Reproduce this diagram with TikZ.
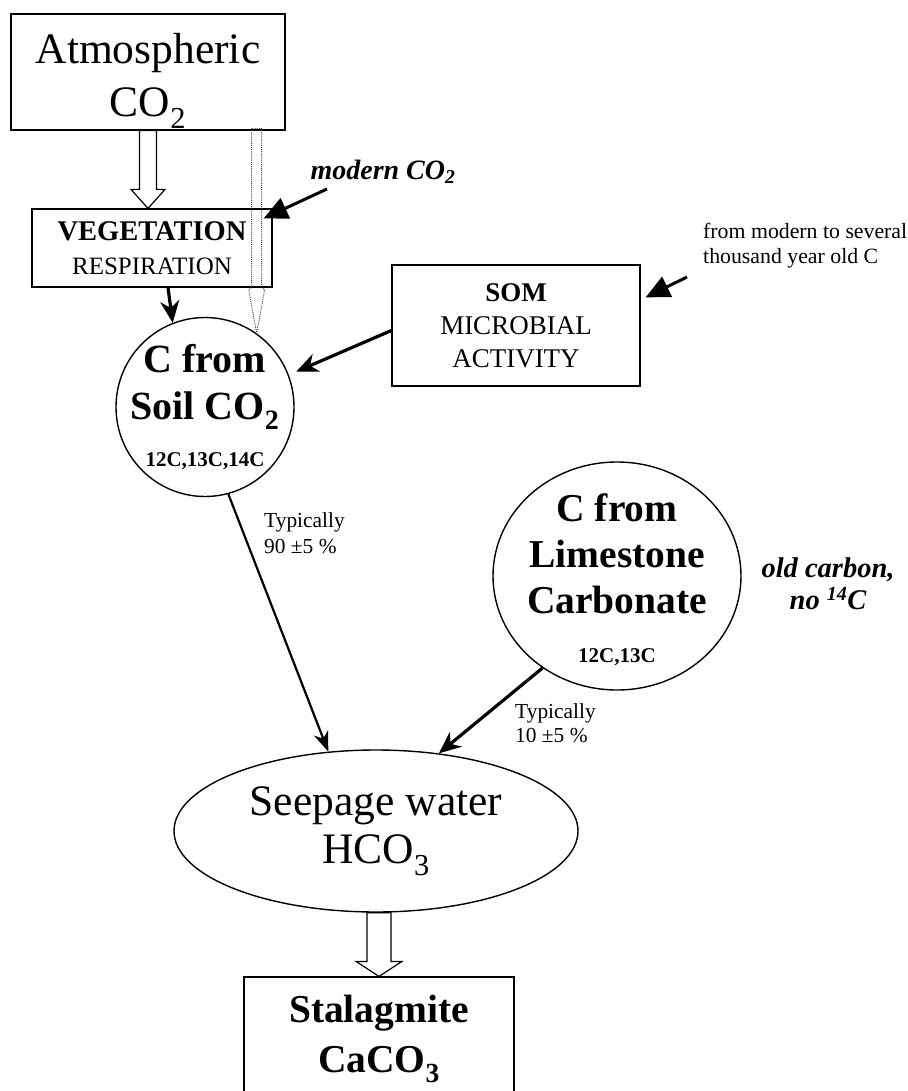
\documentclass[tikz,border=0pt]{standalone}
\usepackage{fontspec}
\setmainfont{Liberation Serif}
\usetikzlibrary{arrows.meta,shapes.geometric,calc}
\begin{document}
\begin{tikzpicture}[x=1pt,y=-1pt,
  box/.style={draw, line width=1.2pt, rectangle, inner sep=0pt, align=center},
  ell/.style={draw, line width=1.4pt, ellipse, inner sep=-22pt, align=center},
  hollow/.style={draw, line width=1.2pt, fill=white, line join=miter},
  bigarr/.style={line width=3pt, -{Triangle[length=24pt,width=22pt]}},
  arr/.style={line width=3.2pt, -{Stealth[length=22pt,width=19pt,inset=7pt]}},
  thinarr/.style={line width=2.2pt, -{Stealth[length=20pt,width=15pt,inset=6pt]}},
  dotbox/.style={densely dotted, black!75, line width=0.9pt},
  lbl/.style={inner sep=0pt},
]
\path[use as bounding box, clip] (0,0) rectangle (907,1091);

\node[box, minimum width=274pt, minimum height=116pt, font=\fontsize{43.5}{53}\selectfont] (atm) at (148,72) {\rule{0pt}{48pt}Atmospheric\\CO\textsubscript{2}};
\node[box, minimum width=240pt, minimum height=78pt, font=\fontsize{25}{34}\selectfont] (veg) at (152,248) {{\bfseries\fontsize{28.5}{34}\selectfont VEGETATION}\\RESPIRATION};
\node[box, minimum width=248pt, minimum height=121pt, font=\fontsize{27}{33}\selectfont] (som) at (516,325.5) {\textbf{SOM}\\MICROBIAL\\ACTIVITY};
\node[ell, minimum width=178pt, minimum height=179pt, font=\fontsize{40}{47}\selectfont\bfseries] (soil) at (205,407) {C from\\Soil CO\textsubscript{2}\\{\fontsize{21}{25}\selectfont 12C,13C,14C}};
\node[ell, minimum width=248pt, minimum height=228pt, font=\fontsize{39.5}{46}\selectfont\bfseries] (lime) at (617,576) {\rule{0pt}{36pt}C from\\Limestone\\Carbonate\\[3pt]{\fontsize{21}{25}\selectfont 12C,13C}};
\node[ell, minimum width=404pt, minimum height=162pt, font=\fontsize{43.5}{48}\selectfont] (seep) at (376,831) {Seepage water\\HCO\textsubscript{3}};
\node[box, minimum width=270pt, minimum height=124pt, font=\fontsize{39.5}{50}\selectfont\bfseries] (stal) at (379,1039) {Stalagmite\\CaCO\textsubscript{3}};

\node[lbl, font=\fontsize{28}{32}\selectfont\bfseries\itshape] (modern) at (383,172) {modern CO\textsubscript{2}};
\node[lbl, font=\fontsize{21.8}{25}\selectfont, align=left, anchor=west] (fromm) at (703,246) {from modern to several\\thousand year old C};
\node[lbl, font=\fontsize{21.4}{26}\selectfont, align=left, anchor=west] (t90) at (264,533) {Typically\\90 ±5 \%};
\node[lbl, font=\fontsize{21.4}{24}\selectfont, align=left, anchor=west] (t10) at (515,723) {Typically\\10 ±5 \%};
\node[lbl, font=\fontsize{28.5}{32}\selectfont\bfseries\itshape, align=center] (old) at (828,584) {old carbon,\\no \textsuperscript{14}C};

\coordinate (mtail) at (327,189);
\coordinate (ftail) at (687,277);

\draw[hollow] let \p1=(atm.south), \p2=(veg.north) in
  (\x1-8.5pt,\y1) -- (\x1-8.5pt,\y2+19pt) -- (\x1-17pt,\y2+19pt) -- (\x1,\y2)
  -- (\x1+17pt,\y2+19pt) -- (\x1+8.5pt,\y2+19pt) -- (\x1+8.5pt,\y1) -- cycle;
\draw[hollow] let \p1=(stal.north), \p2=(seep.south) in
  (\x1-12pt,\y2) -- (\x1-12pt,\y1+15pt) -- (\x1-23pt,\y1+15pt) -- (\x1,\y1)
  -- (\x1+23pt,\y1+15pt) -- (\x1+12pt,\y1+15pt) -- (\x1+12pt,\y2) -- cycle;

\draw[dotbox] let \p1=(soil.55), \p2=(atm.south), \p3=(veg.south) in
  (\x1-5pt,\y2+2pt) -- (\x1+5pt,\y2+2pt) -- (\x1+5pt,\y3) -- (\x1+8pt,\y3-2pt)
  -- (\x1,\y1) -- (\x1-8pt,\y3-2pt) -- (\x1-5pt,\y3) -- cycle;

\draw[bigarr] (mtail) -- ($(veg.north east)+(-9,10)$);
\draw[bigarr] (ftail) -- ($(som.north east)+(5,33)$);
\draw[arr, shorten >=8pt] ($(som.west)+(0,5)$) -- (soil.21);
\draw[arr] ([xshift=16pt]veg.south) -- (soil.111);
\draw[thinarr] (soil.-75) -- (seep.121);
\draw[arr] (lime.231) -- (seep.51);
\end{tikzpicture}
\end{document}
